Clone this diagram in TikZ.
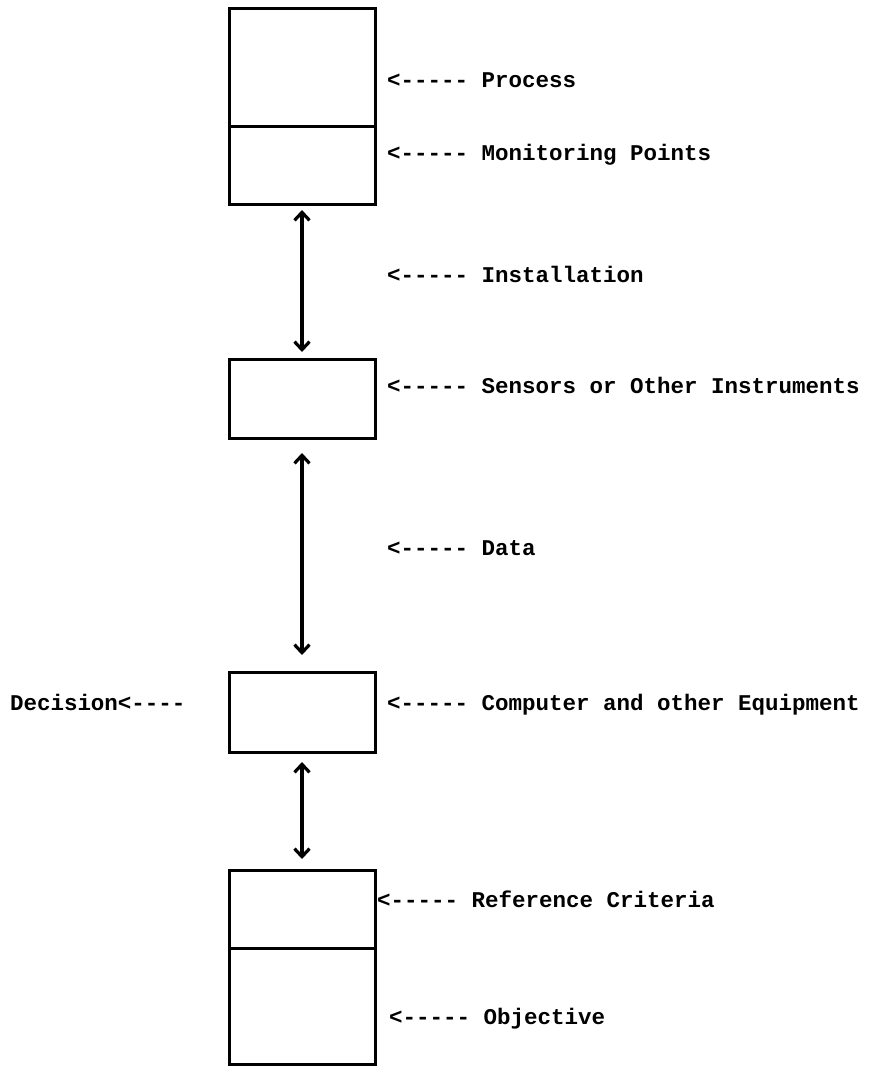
\documentclass[tikz,border=0pt]{standalone}
\usepackage{fontspec}
\setmonofont{Liberation Mono}
\usepackage{tikz}
\usetikzlibrary{positioning, arrows.meta}

\begin{document}
\begin{tikzpicture}[x=1pt, y=-1pt,
  every node/.style={inner sep=0pt, outer sep=0pt},
  box/.style={draw, line width=3pt, minimum width=146pt},
  lbl/.style={font=\ttfamily\bfseries\fontsize{22.5}{27}\selectfont, anchor=base west},
  link/.style={{Straight Barb[length=8pt,width=15pt,line width=3.2pt]}-{Straight Barb[length=8pt,width=15pt,line width=3.2pt]},
    line width=3.6pt}]
\useasboundingbox (0,0) rectangle (869,1066);
% stack of boxes
\node[box, minimum height=118pt] (procbox) at (302,67) {};
\node[box, minimum height=78pt, below=0pt of procbox] (monbox) {};
\node[box, minimum height=79pt] (sensbox) at (302,398.5) {};
\node[box, minimum height=80pt] (compbox) at (302,712) {};
\node[box, minimum height=78pt] (refbox) at (302,909) {};
\node[box, minimum height=116pt, below=0pt of refbox] (objbox) {};

% two-way links
\draw[link, shorten <=6pt, shorten >=7pt] (monbox.south) -- (sensbox.north);
\draw[link, shorten <=15pt, shorten >=17pt] (sensbox.south) -- (compbox.north);
\draw[link, shorten <=10pt, shorten >=11pt] (compbox.south) -- (refbox.north);

% labels
\node[lbl] (lproc) at (387,87) {<----- Process};
\node[lbl] (lmon) at (387,160) {<----- Monitoring Points};
\node[lbl] (linst) at (387,282) {<----- Installation};
\node[lbl] (lsens) at (387,393) {<----- Sensors or Other Instruments};
\node[lbl] (ldata) at (387,555) {<----- Data};
\node[lbl] (lcomp) at (387,710) {<----- Computer and other Equipment};
\node[lbl] (ldec) at (10,710) {Decision<----};
\node[lbl] (lref) at (377,907) {<-----~Reference Criteria};
\node[lbl] (lobj) at (389,1024) {<----- Objective};
\end{tikzpicture}
\end{document}
